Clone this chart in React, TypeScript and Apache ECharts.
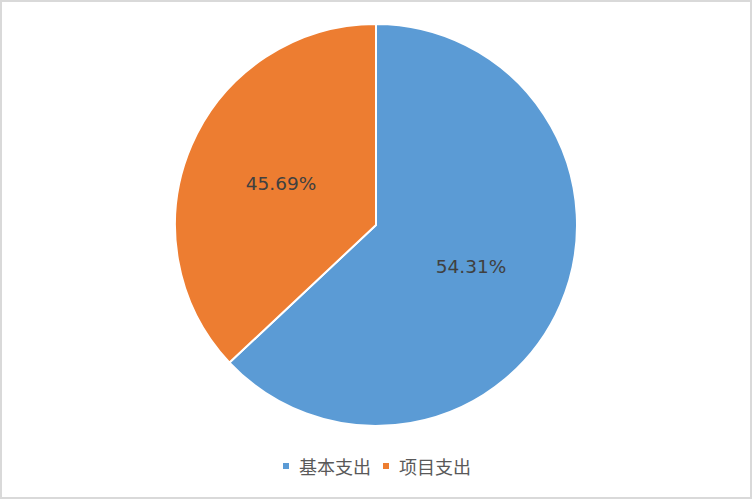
import { useEffect, useRef } from 'react'
import * as echarts from 'echarts'

// slice sizes as drawn in the picture; labels as printed on it
const categories = ['基本支出', '项目支出']
const sliceValues = [63.0, 37.0]
const sliceLabels = ['54.31%', '45.69%']
const colors = ['#5b9bd5', '#ed7d31']

export default function App() {
  const rootRef = useRef<HTMLDivElement | null>(null)
  useEffect(() => {
    if (!rootRef.current) return
    document.body.style.margin = '0'
    const chart = echarts.init(rootRef.current, null, { renderer: 'svg' })
    chart.setOption({
      animation: false,
      backgroundColor: '#ffffff',
      color: colors,
      legend: {
        bottom: 17,
        left: 'center',
        icon: 'rect',
        itemWidth: 8,
        itemHeight: 8,
        itemGap: 10,
        textStyle: {
          color: '#595959',
          fontSize: 18,
          fontFamily: 'Noto Sans CJK SC',
          padding: [0, 0, 0, 4],
        },
        data: categories,
      },
      series: [
        {
          type: 'pie',
          center: [374, 223],
          radius: 201,
          startAngle: 90,
          clockwise: true,
          itemStyle: { borderColor: '#ffffff', borderWidth: 2 },
          label: {
            show: true,
            position: 'inside',
            color: '#404040',
            fontSize: 18.5,
            fontFamily: 'DejaVu Sans',
            formatter: (p: any) => sliceLabels[p.dataIndex],
          },
          labelLine: { show: false },
          emphasis: { disabled: true },
          data: categories.map((name, i) => ({ name, value: sliceValues[i] })),
        },
      ],
    })
    return () => chart.dispose()
  }, [])

  return (
    <div
      style={{
        position: 'fixed',
        left: 0,
        top: 0,
        width: 752,
        height: 499,
        boxSizing: 'border-box',
        border: '2px solid #d9d9d9',
        background: '#fff',
      }}
    >
      <div ref={rootRef} style={{ width: 748, height: 495 }} />
    </div>
  )
}
